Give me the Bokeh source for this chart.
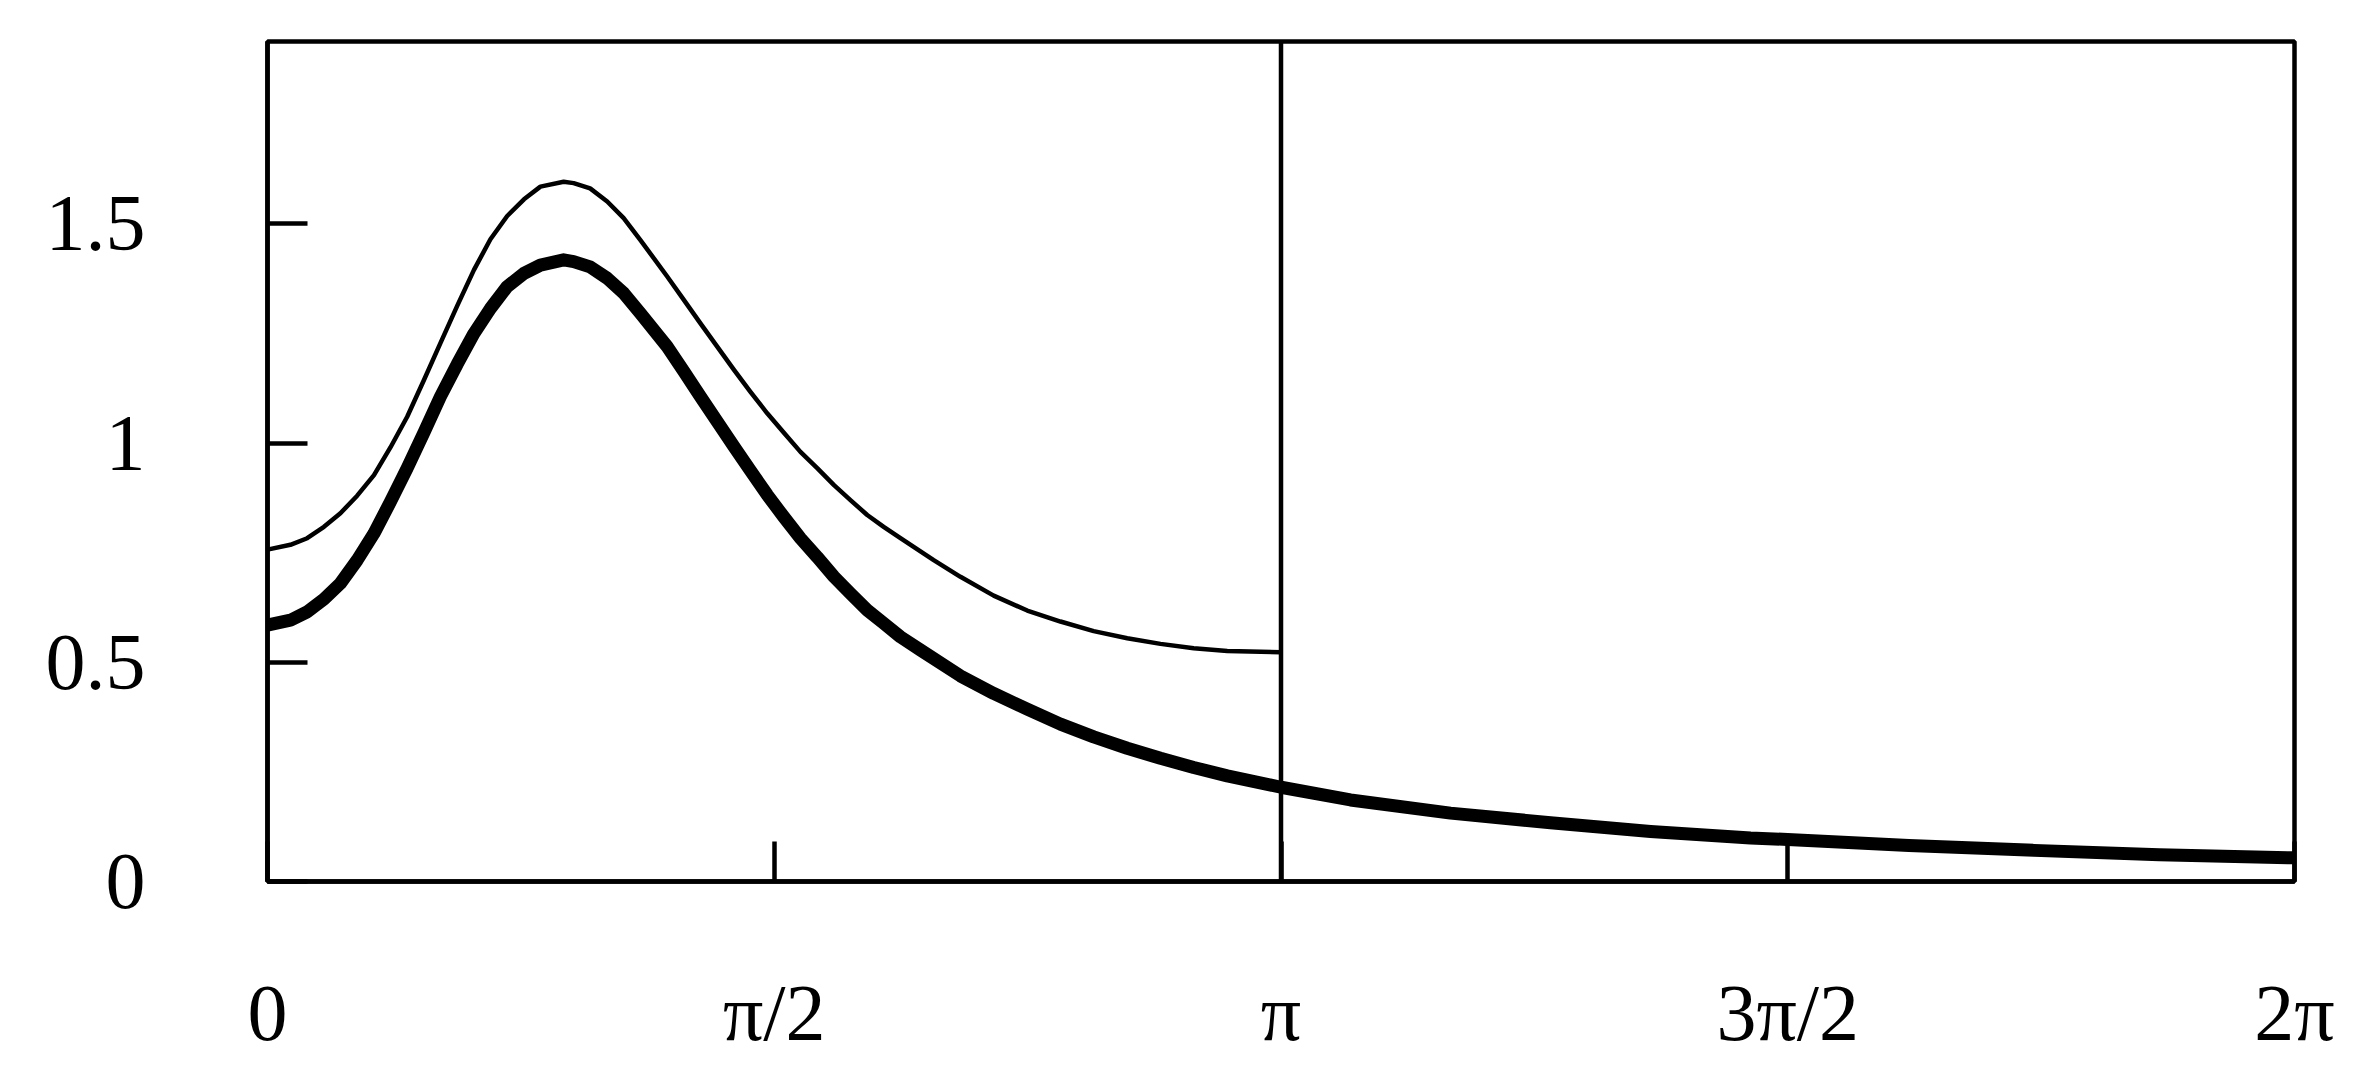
import math

from bokeh.plotting import figure
from bokeh.models import Range1d, FixedTicker, Span
from bokeh.embed import file_html
from bokeh.resources import INLINE

# values (angle in rad, value)
thin_t = [0.000, 0.071, 0.123, 0.175, 0.226, 0.278, 0.330, 0.381, 0.433, 0.485,
          0.536, 0.588, 0.640, 0.691, 0.743, 0.795, 0.846, 0.918, 0.949, 1.000,
          1.053, 1.104, 1.156, 1.239, 1.291, 1.342, 1.394, 1.446, 1.497, 1.549,
          1.600, 1.652, 1.704, 1.756, 1.807, 1.859, 1.910, 1.962, 2.065, 2.148,
          2.251, 2.355, 2.458, 2.561, 2.665, 2.768, 2.871, 2.975, 3.1416]
thin_v = [0.757, 0.768, 0.783, 0.809, 0.840, 0.880, 0.927, 0.990, 1.060, 1.144,
          1.228, 1.313, 1.395, 1.465, 1.518, 1.556, 1.585, 1.596, 1.593, 1.581,
          1.551, 1.513, 1.463, 1.380, 1.326, 1.273, 1.220, 1.167, 1.117, 1.068,
          1.024, 0.980, 0.943, 0.904, 0.870, 0.836, 0.809, 0.783, 0.733, 0.695,
          0.652, 0.618, 0.593, 0.571, 0.555, 0.542, 0.532, 0.526, 0.523]

thick_t = [0.000, 0.071, 0.123, 0.175, 0.226, 0.278, 0.330, 0.381, 0.433, 0.485,
           0.536, 0.588, 0.640, 0.691, 0.743, 0.795, 0.846, 0.918, 0.949, 1.000,
           1.053, 1.104, 1.156, 1.239, 1.291, 1.342, 1.394, 1.446, 1.497, 1.549,
           1.600, 1.652, 1.704, 1.756, 1.807, 1.859, 1.910, 1.962, 2.024, 2.148,
           2.251, 2.355, 2.458, 2.561, 2.665, 2.768, 2.871, 2.975, 3.1416, 3.357,
           3.667, 3.977, 4.287, 4.597, 4.712, 5.088, 5.476, 5.864, 6.2832]
thick_v = [0.585, 0.596, 0.615, 0.644, 0.680, 0.733, 0.794, 0.866, 0.943, 1.024,
           1.106, 1.180, 1.250, 1.307, 1.357, 1.387, 1.406, 1.418, 1.414, 1.402,
           1.376, 1.342, 1.296, 1.220, 1.163, 1.106, 1.049, 0.992, 0.937, 0.882,
           0.832, 0.783, 0.740, 0.695, 0.657, 0.619, 0.589, 0.558, 0.528, 0.469,
           0.429, 0.393, 0.359, 0.330, 0.304, 0.281, 0.260, 0.241, 0.215, 0.186,
           0.156, 0.134, 0.114, 0.099, 0.096, 0.082, 0.071, 0.061, 0.054]

x_ticks = [0, math.pi / 2, math.pi, 3 * math.pi / 2, 2 * math.pi]
x_labels = ["0", "π/2", "π", "3π/2", "2π"]
y_ticks = [0, 0.5, 1, 1.5]
y_labels = ["0", "0.5", "1", "1.5"]
divider = math.pi

FONT = "Liberation Serif"

p = figure(width=2349, height=1066, output_backend="svg", toolbar_location=None,
           x_range=Range1d(0, 2 * math.pi), y_range=Range1d(0, 1.916),
           min_border_left=267, min_border_right=55,
           min_border_top=41, min_border_bottom=185)

p.grid.visible = False
p.background_fill_color = "white"
p.border_fill_color = "white"
p.outline_line_color = "black"
p.outline_line_width = 4.5
p.outline_line_alpha = 1.0

for ax in (p.xaxis[0], p.yaxis[0]):
    ax.axis_line_color = "black"
    ax.axis_line_width = 4.5
    ax.major_tick_line_color = "black"
    ax.major_tick_line_width = 4.5
    ax.major_tick_in = 40
    ax.major_tick_out = 0
    ax.minor_tick_line_color = None
    ax.major_label_text_font = FONT
    ax.major_label_text_font_size = "80px"
    ax.major_label_text_color = "black"

p.xaxis.ticker = FixedTicker(ticks=x_ticks)
p.xaxis.major_label_overrides = dict(zip(x_ticks, x_labels))
p.xaxis.major_label_standoff = 87

p.yaxis.ticker = FixedTicker(ticks=y_ticks)
p.yaxis.major_label_overrides = dict(zip(y_ticks, y_labels))
p.yaxis.major_label_standoff = 122

p.add_layout(Span(location=divider, dimension="height",
                  line_color="black", line_width=4.5))

p.line(thin_t, thin_v, line_color="black", line_width=4.5, line_join="round")
p.line(thick_t, thick_v, line_color="black", line_width=13, line_join="round")

open("out.html", "w").write(file_html(p, INLINE))
